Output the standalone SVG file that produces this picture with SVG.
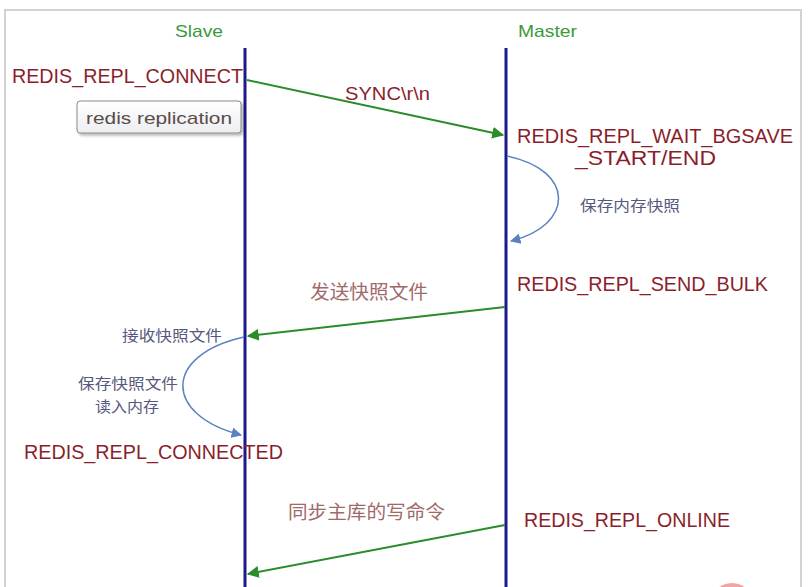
<svg xmlns="http://www.w3.org/2000/svg" width="810" height="587" viewBox="0 0 810 587">
<style>
.lat{font-family:"Liberation Sans",Arial,sans-serif}
.cjk{font-family:"Noto Sans CJK SC","Noto Sans",sans-serif}
.state{fill:#8b1e2c;font-size:20px}
.role{fill:#3a9a3a;font-size:17px}
.note{fill:#56587e;font-size:15px}
.msg{fill:#a06a6a;font-size:19px}
.life{stroke:#1a1a8a;stroke-width:3}
.green{stroke:#2a8c2a;stroke-width:2;fill:none;marker-end:url(#ga)}
.blue{stroke:#5b82c0;stroke-width:1.5;fill:none;marker-end:url(#ba)}
</style>
<defs>
<marker id="ga" viewBox="0 0 10 10" refX="9" refY="5" markerWidth="6" markerHeight="6" orient="auto" markerUnits="strokeWidth">
<path d="M0,0 L10,5 L0,10 z" fill="#2a8c2a"/>
</marker>
<marker id="ba" viewBox="0 0 10 10" refX="9" refY="5" markerWidth="7" markerHeight="7" orient="auto" markerUnits="strokeWidth">
<path d="M0,0 L10,5 L0,10 z" fill="#5b82c0"/>
</marker>
<linearGradient id="boxg" x1="0" y1="0" x2="0" y2="1">
<stop offset="0" stop-color="#ffffff"/>
<stop offset="1" stop-color="#eceef2"/>
</linearGradient>
<filter id="sh" x="-10%" y="-20%" width="130%" height="160%">
<feDropShadow dx="2" dy="2" stdDeviation="1.5" flood-color="#000" flood-opacity="0.3"/>
</filter>
</defs>
<rect x="0" y="0" width="810" height="587" fill="#fff"/>
<path d="M5,587 L5,10 L801,10 L801,587" fill="none" stroke="#d2d2d2" stroke-width="2"/>
<circle cx="732" cy="604" r="21" fill="#f4a4a4"/>

<g id="slave">
<line class="life" x1="245" y1="48" x2="245" y2="587"/>
<text class="lat role" x="175" y="37" textLength="48" lengthAdjust="spacingAndGlyphs">Slave</text>
</g>
<g id="master">
<line class="life" x1="506" y1="48" x2="506" y2="587"/>
<text class="lat role" x="518" y="37" textLength="59" lengthAdjust="spacingAndGlyphs">Master</text>
</g>

<g id="state-connect">
<text class="lat state" x="12" y="83" textLength="231" lengthAdjust="spacingAndGlyphs">REDIS_REPL_CONNECT</text>
</g>
<g id="tooltip">
<rect x="77" y="101" width="164" height="32" rx="3" fill="url(#boxg)" stroke="#8a8a8a" stroke-width="1" filter="url(#sh)"/>
<text class="lat" x="86" y="124" font-size="17" fill="#5a4c46" textLength="146" lengthAdjust="spacingAndGlyphs">redis replication</text>
</g>
<g id="state-wait">
<text class="lat state" x="517" y="143" textLength="276" lengthAdjust="spacingAndGlyphs">REDIS_REPL_WAIT_BGSAVE</text>
<text class="lat state" x="575" y="165" textLength="141" lengthAdjust="spacingAndGlyphs">_START/END</text>
</g>
<g id="state-send">
<text class="lat state" x="517" y="291" textLength="251" lengthAdjust="spacingAndGlyphs">REDIS_REPL_SEND_BULK</text>
</g>
<g id="state-connected">
<text class="lat state" x="24" y="459" textLength="259" lengthAdjust="spacingAndGlyphs">REDIS_REPL_CONNECTED</text>
</g>
<g id="state-online">
<text class="lat state" x="524" y="527" textLength="206" lengthAdjust="spacingAndGlyphs">REDIS_REPL_ONLINE</text>
</g>

<g id="connectors">
<line class="green" x1="247" y1="80" x2="503" y2="135"/>
<text class="lat" x="345" y="100" font-size="18" fill="#8b1e2c" textLength="85" lengthAdjust="spacingAndGlyphs">SYNC\r\n</text>
<path class="blue" d="M507,156 C575,170 575,225 511,241"/>
<text class="cjk note" x="580" y="211" textLength="100" lengthAdjust="spacingAndGlyphs">保存内存快照</text>
<line class="green" x1="505" y1="307" x2="248" y2="336"/>
<text class="cjk msg" x="310" y="299" textLength="118" lengthAdjust="spacingAndGlyphs">发送快照文件</text>
<text class="cjk note" x="122" y="341" textLength="100" lengthAdjust="spacingAndGlyphs">接收快照文件</text>
<path class="blue" d="M244,337 C163,355 163,415 241,435"/>
<text class="cjk note" x="78" y="389" textLength="100" lengthAdjust="spacingAndGlyphs">保存快照文件</text>
<text class="cjk note" x="95" y="412" textLength="64" lengthAdjust="spacingAndGlyphs">读入内存</text>
<line class="green" x1="505" y1="525" x2="248" y2="574"/>
<text class="cjk msg" x="288" y="519" textLength="157" lengthAdjust="spacingAndGlyphs">同步主库的写命令</text>
</g>
</svg>
